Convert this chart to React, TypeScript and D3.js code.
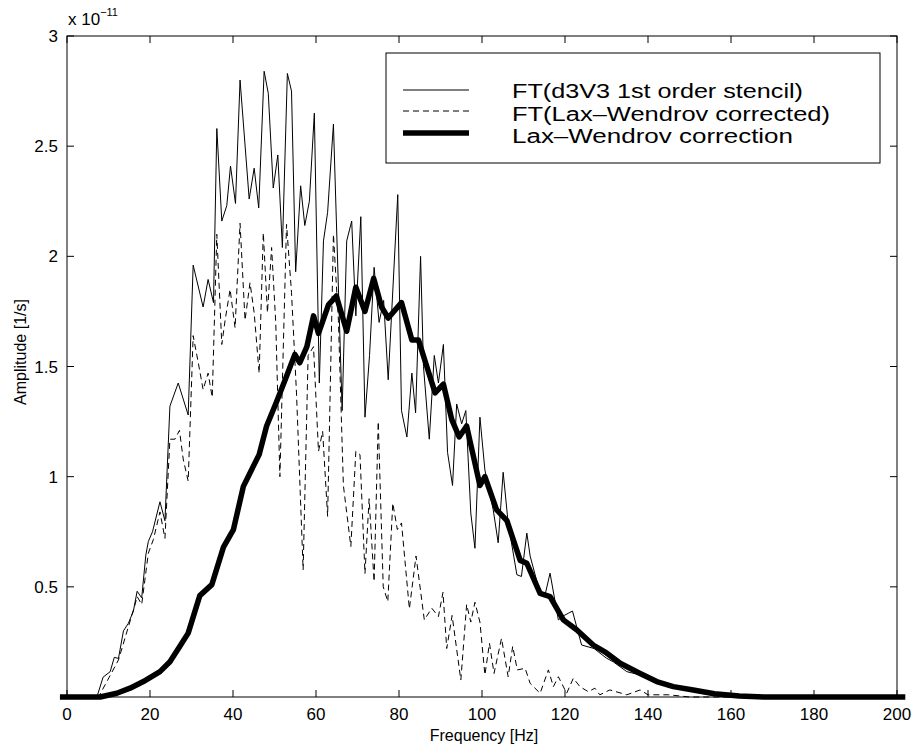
import React from "react";
import * as d3 from "d3";

// Frequency [Hz], amplitude [x 1e-11 1/s]
const solidSeries: [number, number][] = [
  [0, 0], [7.2, 0], [8.7, 0.09], [10.4, 0.115], [11.4, 0.18], [12.4, 0.175], [13.6, 0.3], [14.8, 0.335],
  [16.0, 0.39], [16.9, 0.48], [18.0, 0.45], [19.0, 0.645], [19.6, 0.706], [20.6, 0.75], [22.4, 0.886],
  [23.6, 0.8], [24.8, 1.32], [26.8, 1.425], [29.2, 1.28], [30.4, 1.96], [32.8, 1.77], [34.0, 1.895],
  [35.3, 1.79], [36.1, 2.58], [37.3, 2.16], [38.5, 2.23], [39.4, 2.41], [40.6, 2.24], [41.7, 2.8],
  [43.9, 2.26], [45.1, 2.4], [46.2, 2.22], [47.5, 2.84], [48.5, 2.74], [49.7, 2.31], [50.8, 2.46],
  [51.9, 2.04], [53.1, 2.83], [54.1, 2.75], [55.1, 1.93], [56.3, 2.32], [57.3, 2.14], [58.4, 2.25],
  [59.6, 2.65], [60.8, 1.425], [61.8, 2.07], [62.8, 2.2], [64.2, 2.6], [66.3, 1.3], [67.4, 2.07],
  [68.6, 2.16], [69.6, 1.73], [70.8, 2.18], [71.8, 1.27], [72.9, 1.55], [74.0, 1.95], [75.2, 1.7],
  [76.3, 1.8], [77.4, 1.44], [79.7, 2.28], [80.6, 1.3], [81.9, 1.18], [83.1, 1.47], [84.0, 1.29],
  [85.2, 2.0], [85.9, 1.5], [87.3, 1.17], [88.5, 1.55], [89.5, 1.425], [90.7, 1.6], [91.7, 1.11],
  [92.9, 0.96], [93.9, 1.33], [95.1, 1.24], [96.1, 1.3], [97.3, 0.835], [98.3, 0.675], [99.5, 1.27],
  [100.7, 1.03], [102.7, 0.85], [103.9, 0.7], [105.1, 1.02], [106.3, 0.79], [108.4, 0.555],
  [109.5, 0.547], [110.8, 0.744], [111.6, 0.64], [114.0, 0.47], [115.2, 0.464], [116.4, 0.562],
  [118.4, 0.35], [119.8, 0.37], [120.8, 0.38], [121.8, 0.39], [124.0, 0.236], [127.0, 0.22],
  [130.0, 0.176], [131.6, 0.16], [134.9, 0.115], [138.1, 0.1], [142.1, 0.07], [146.1, 0.047],
  [150.9, 0.024], [155, 0.01], [160, 0], [200, 0],
];

const dashedSeries: [number, number][] = [
  [0, 0], [7.6, 0], [12.4, 0.168], [16.4, 0.42], [16.9, 0.456], [18.0, 0.42], [19.6, 0.653], [20.8, 0.714],
  [22.4, 0.84], [23.6, 0.72], [24.8, 1.17], [26.0, 1.17], [27.1, 1.21], [28.0, 1.08], [29.2, 0.98],
  [30.4, 1.64], [31.6, 1.52], [32.8, 1.395], [34.0, 1.47], [35.0, 1.36], [36.1, 2.1], [37.3, 1.6],
  [38.1, 1.71], [39.3, 1.85], [40.5, 1.675], [41.7, 2.15], [42.9, 1.71], [44.1, 1.88], [45.1, 1.744],
  [46.3, 1.47], [47.3, 2.107], [48.3, 1.744], [49.3, 2.04], [50.3, 1.7], [51.3, 1.0], [52.9, 2.145],
  [54.1, 1.835], [55.3, 1.38], [56.9, 0.577], [58.1, 1.55], [59.4, 1.59], [60.6, 1.115], [61.6, 1.206],
  [62.8, 0.82], [64.2, 2.1], [65.4, 1.71], [66.6, 0.96], [68.4, 0.683], [69.6, 1.115], [70.6, 1.1],
  [71.8, 0.56], [72.8, 0.9], [74.0, 0.524], [75.0, 1.25], [76.2, 0.5], [77.3, 0.433], [78.5, 0.88],
  [79.6, 0.76], [80.6, 0.79], [82.5, 0.4], [84.1, 0.64], [86.1, 0.35], [87.9, 0.403], [89.5, 0.365],
  [90.6, 0.475], [91.5, 0.22], [92.8, 0.37], [94.9, 0.077], [96.3, 0.42], [97.3, 0.34], [98.3, 0.43],
  [99.5, 0.34], [100.7, 0.1], [101.8, 0.244], [102.9, 0.107], [104.7, 0.266], [106.3, 0.092],
  [107.4, 0.23], [108.5, 0.123], [110.4, 0.13], [111.6, 0.062], [114.0, 0.017], [116.0, 0.123],
  [117.2, 0.047], [118.4, 0.092], [120.4, 0.017], [122.0, 0.085], [123.6, 0.047], [125.6, 0.024],
  [127.2, 0.04], [128.4, 0.01], [130.8, 0.032], [134.9, 0.01], [138.1, 0.032], [140, 0.01],
  [145, 0.01], [150, 0], [200, 0],
];

const thickSeries: [number, number][] = [
  [-1.7, 0], [8, 0], [12, 0.017], [15.2, 0.04], [18.4, 0.07], [22.4, 0.115], [24.8, 0.16], [27.2, 0.23],
  [29.2, 0.29], [32.0, 0.46], [34.9, 0.51], [37.7, 0.68], [40.1, 0.76], [42.5, 0.956], [44.1, 1.017],
  [46.3, 1.1], [48.1, 1.23], [50.5, 1.34], [52.9, 1.456], [54.9, 1.555], [56.1, 1.517], [57.8, 1.59],
  [59.4, 1.73], [60.6, 1.65], [63.0, 1.78], [64.9, 1.82], [67.4, 1.66], [69.6, 1.86], [71.8, 1.75],
  [73.9, 1.9], [75.8, 1.77], [77.4, 1.72], [80.6, 1.79], [83.1, 1.62], [84.7, 1.62], [86.7, 1.5],
  [88.7, 1.38], [90.7, 1.42], [92.7, 1.26], [94.5, 1.18], [96.3, 1.23], [99.5, 0.96], [100.7, 1.0],
  [103.5, 0.85], [106.0, 0.8], [109.2, 0.62], [110.8, 0.607], [114.0, 0.47], [116.4, 0.456],
  [119.6, 0.35], [122.8, 0.305], [126.8, 0.236], [130.0, 0.2], [133.3, 0.153], [138.1, 0.107],
  [142.1, 0.07], [146.1, 0.047], [150.9, 0.032], [156, 0.015], [162, 0.005], [168, 0], [202, 0],
];

const xTicks = [0, 20, 40, 60, 80, 100, 120, 140, 160, 180, 200];
const yTicks = [0.5, 1, 1.5, 2, 2.5, 3];
const yTickLabels = ["0.5", "1", "1.5", "2", "2.5", "3"];
const legendLabels = [
  "FT(d3V3 1st order stencil)",
  "FT(Lax\u2013Wendrov corrected)",
  "Lax\u2013Wendrov correction",
];
const legendTextWidths = [291, 318, 281];

const W = 916;
const H = 747;
const L = 67, R = 897, T = 36, B = 697;

export default function App() {
  const x = d3.scaleLinear().domain([0, 200]).range([L, R]);
  const y = d3.scaleLinear().domain([0, 3]).range([B, T]);
  const line = d3
    .line<[number, number]>()
    .x((d) => x(d[0]))
    .y((d) => y(d[1]));
  const font = "'Liberation Sans', Arial, Helvetica, sans-serif";
  const tickLen = 7;

  const legX = 386, legY = 53, legW = 494, legH = 110;
  const rows = [90, 111, 133];
  const textBase = [98, 120.5, 143];

  return (
    <svg
      width={W}
      height={H}
      style={{ position: "absolute", left: 0, top: 0, background: "#fff" }}
      fontFamily={font}
    >
      <rect x={0} y={0} width={W} height={H} fill="#fff" />
      <path d={line(solidSeries) || ""} fill="none" stroke="#000" strokeWidth={1} />
      <path
        d={line(dashedSeries) || ""}
        fill="none"
        stroke="#000"
        strokeWidth={1}
        strokeDasharray="6,4"
      />
      <path
        d={line(thickSeries) || ""}
        fill="none"
        stroke="#000"
        strokeWidth={5.5}
        strokeLinejoin="round"
      />
      <rect x={L} y={T} width={R - L} height={B - T} fill="none" stroke="#000" strokeWidth={1} />
      {xTicks.map((t) => (
        <g key={"x" + t}>
          <line x1={x(t)} x2={x(t)} y1={B} y2={B - tickLen} stroke="#000" />
          <line x1={x(t)} x2={x(t)} y1={T} y2={T + tickLen} stroke="#000" />
          <text x={x(t)} y={720} fontSize={17} textAnchor="middle" fill="#000">
            {t}
          </text>
        </g>
      ))}
      {yTicks.map((t, i) => (
        <g key={"y" + t}>
          <line x1={L} x2={L + tickLen} y1={y(t)} y2={y(t)} stroke="#000" />
          <line x1={R} x2={R - tickLen} y1={y(t)} y2={y(t)} stroke="#000" />
          <text x={58} y={y(t) + 6} fontSize={17} textAnchor="end" fill="#000">
            {yTickLabels[i]}
          </text>
        </g>
      ))}
      <text x={68} y={25} fontSize={17} fill="#000">
        x 10
        <tspan dy={-9} fontSize={11}>
          {"\u221211"}
        </tspan>
      </text>
      <text x={484} y={741} fontSize={16} textAnchor="middle" fill="#000">
        Frequency [Hz]
      </text>
      <text
        transform={`translate(26, ${352}) rotate(-90)`}
        fontSize={16}
        textAnchor="middle"
        fill="#000"
      >
        Amplitude [1/s]
      </text>
      <rect x={legX} y={legY} width={legW} height={legH} fill="#fff" stroke="#000" strokeWidth={1} />
      <line x1={403} x2={469} y1={rows[0]} y2={rows[0]} stroke="#000" strokeWidth={1} />
      <line
        x1={403}
        x2={469}
        y1={rows[1]}
        y2={rows[1]}
        stroke="#000"
        strokeWidth={1}
        strokeDasharray="6,4"
      />
      <line x1={403} x2={469} y1={rows[2]} y2={rows[2]} stroke="#000" strokeWidth={5.5} />
      {legendLabels.map((s, i) => (
        <text
          key={s}
          x={512}
          y={textBase[i]}
          fontSize={20}
          fill="#000"
          textLength={legendTextWidths[i]}
          lengthAdjust="spacingAndGlyphs"
        >
          {s}
        </text>
      ))}
    </svg>
  );
}
